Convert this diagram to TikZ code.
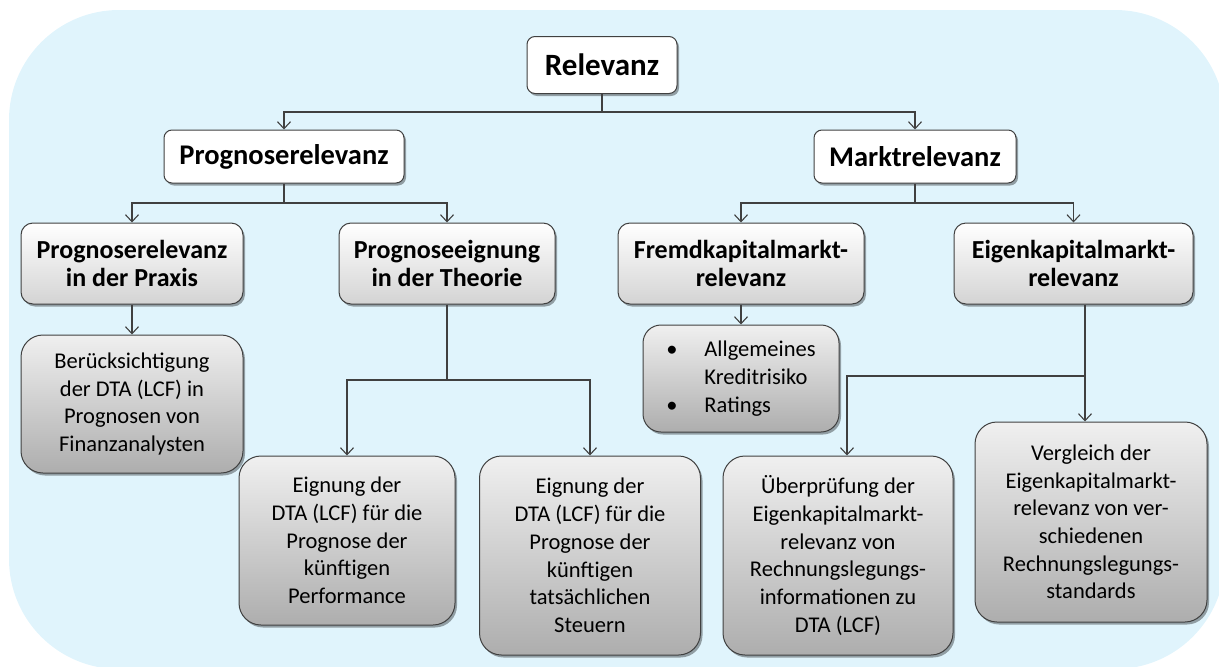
\documentclass[tikz,border=0pt]{standalone}
\usepackage{fontspec}
\setmainfont{Carlito}
\usetikzlibrary{arrows.meta,shadows,calc}

\definecolor{panel}{HTML}{E0F4FC}
\definecolor{edge}{HTML}{404040}

\tikzset{
  box/.style={draw=edge, line width=1pt, inner sep=0pt, align=center,
    drop shadow={shadow xshift=2pt, shadow yshift=-2.5pt, opacity=0.35, fill=black}},
  head/.style={box, rounded corners=8pt, fill=white,
    font=\bfseries\fontsize{28.5}{33}\selectfont},
  sub/.style={box, rounded corners=12pt, top color=white, bottom color=black!17,
    font=\bfseries\fontsize{26}{28.5}\selectfont},
  leaf/.style={box, rounded corners=22pt, top color=black!6, bottom color=black!32,
    font=\fontsize{22.5}{27.7}\selectfont},
  conn/.style={draw=edge, line width=1.2pt,
    -{Straight Barb[length=7pt,width=13pt,line width=1.1pt]}},
  plain/.style={draw=edge, line width=1.2pt}
}

\begin{document}
\begin{tikzpicture}[x=1pt,y=-1pt]
\useasboundingbox (0,0) rectangle (1219,667);
\fill[panel, rounded corners=110pt] (9,10) rectangle (1225,669);

% first level
\node[head, font=\bfseries\fontsize{31}{35}\selectfont, minimum width=150pt, minimum height=57pt] (rel) at (602,65) {Relevanz};
\node[head, minimum width=240pt, minimum height=53pt] (prog) at (284,156.5) {Prognoserelevanz};
\node[head, minimum width=202pt, minimum height=53pt] (markt) at (915,156.5) {Marktrelevanz};

% second level
\node[sub, minimum width=222pt, minimum height=81pt] (praxis) at (132,263.5) {Prognoserelevanz\\in der Praxis};
\node[sub, minimum width=216pt, minimum height=81pt] (theorie) at (447,263.5) {Prognoseeignung\\in der Theorie};
\node[sub, minimum width=246pt, minimum height=81pt] (fremd) at (741,263.5) {Fremdkapitalmarkt-\\relevanz};
\node[sub, minimum width=239pt, minimum height=81pt] (eigen) at (1073.5,263.5) {Eigenkapitalmarkt-\\relevanz};

% third level
\node[leaf, minimum width=222pt, minimum height=138pt] (berue) at (132,404)
  {Berücksichtigung\\der DTA (LCF) in\\Prognosen von\\Finanzanalysten};
\node[leaf, minimum width=216pt, minimum height=169pt] (perf) at (347,540.5)
  {Eignung der\\DTA (LCF) für die\\Prognose der\\künftigen\\Performance};
\node[leaf, minimum width=221pt, minimum height=199pt] (steu) at (590,555.5)
  {Eignung der\\DTA (LCF) für die\\Prognose der\\künftigen\\tatsächlichen\\Steuern};
\node[leaf, rounded corners=18pt, align=left, minimum width=196pt, minimum height=107pt] (allg) at (741,378.5)
  {\makebox[38pt][l]{\textbullet}Allgemeines\hspace{8pt}\\\makebox[38pt][l]{}Kreditrisiko\\\makebox[38pt][l]{\textbullet}Ratings};
\node[leaf, minimum width=230pt, minimum height=199pt] (uebe) at (838,555.5)
  {Überprüfung der\\Eigenkapitalmarkt-\\relevanz von\\Rechnungslegungs-\\informationen zu\\DTA (LCF)};
\node[leaf, minimum width=232pt, minimum height=200pt] (verg) at (1091,522)
  {Vergleich der\\Eigenkapitalmarkt-\\relevanz von ver-\\schiedenen\\Rechnungslegungs-\\standards};

% junctions of the branching connectors
\coordinate (j1) at (602,112);
\coordinate (j2) at (284,203);
\coordinate (j3) at (915,203);
\coordinate (j4) at (447,380);
\coordinate (j5) at (1085,376);

\draw[plain] (rel.south) -- (j1);
\draw[conn] (j1) -| (prog.north);
\draw[conn] (j1) -| (markt.north);

\draw[plain] (prog.south) -- (j2);
\draw[conn] (j2) -| (praxis.north);
\draw[conn] (j2) -| (theorie.north);

\draw[plain] (markt.south) -- (j3);
\draw[conn] (j3) -| (fremd.north);
\draw[conn] (j3) -| (eigen.north);

\draw[conn] (praxis.south) -- (berue.north);
\draw[conn] (fremd.south) -- (allg.north);

\draw[plain] (theorie.south) -- (j4);
\draw[conn] (j4) -| (perf.north);
\draw[conn] (j4) -| (steu.north);

\draw[conn] ([xshift=11.5pt]eigen.south) -- ([xshift=-6pt]verg.north);
\draw[conn] (j5) -| ([xshift=9pt]uebe.north);
\end{tikzpicture}
\end{document}
